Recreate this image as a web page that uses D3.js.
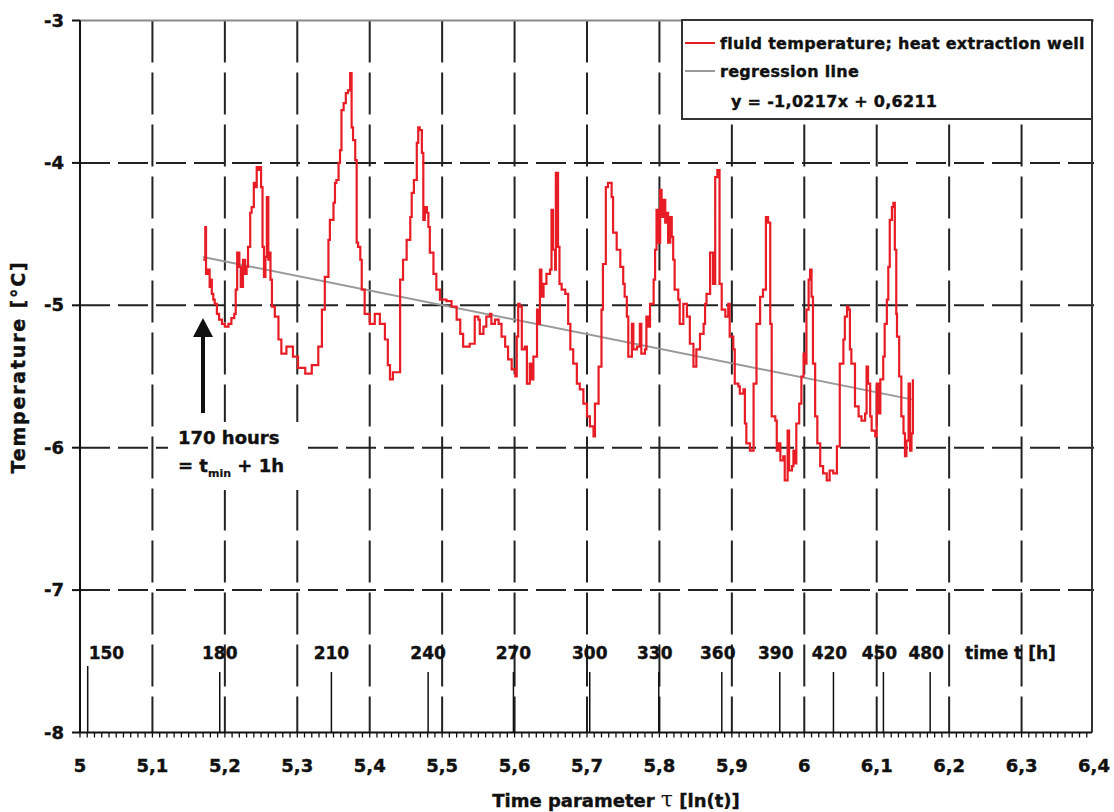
<!DOCTYPE html>
<html>
<head>
<meta charset="utf-8">
<script src="https://cdn.jsdelivr.net/npm/d3@7"></script>
<style>
  body { margin: 0; background: #fff; }
  svg text { font-family: "DejaVu Sans", sans-serif; font-weight: bold; fill: #111; stroke: #111; stroke-width: 0.4px; }
</style>
</head>
<body>
<svg id="chart" width="1114" height="812"></svg>
<script>
// tau = ln(t), temperature in degC
const tauValues = [
  5.170, 5.173, 5.174, 5.177, 5.179, 5.180, 5.182, 5.184, 5.186, 5.189,
  5.192, 5.196, 5.200, 5.205, 5.209, 5.213, 5.215, 5.217, 5.220, 5.222,
  5.225, 5.228, 5.230, 5.232, 5.235, 5.237, 5.240, 5.243, 5.244, 5.246,
  5.249, 5.250, 5.252, 5.254, 5.256, 5.258, 5.260, 5.261, 5.263, 5.265,
  5.269, 5.274, 5.278, 5.285, 5.294, 5.301, 5.311, 5.320, 5.329, 5.334,
  5.338, 5.343, 5.345, 5.350, 5.352, 5.354, 5.357, 5.359, 5.361, 5.364,
  5.367, 5.370, 5.373, 5.375, 5.377, 5.380, 5.382, 5.384, 5.387, 5.389,
  5.393, 5.400, 5.407, 5.414, 5.421, 5.425, 5.428, 5.432, 5.442, 5.446,
  5.451, 5.456, 5.458, 5.461, 5.465, 5.467, 5.469, 5.472, 5.474, 5.476,
  5.479, 5.481, 5.483, 5.488, 5.492, 5.497, 5.506, 5.513, 5.520, 5.525,
  5.529, 5.538, 5.545, 5.550, 5.552, 5.557, 5.561, 5.566, 5.568, 5.573,
  5.578, 5.582, 5.587, 5.591, 5.596, 5.601, 5.603, 5.605, 5.607, 5.610,
  5.614, 5.617, 5.621, 5.624, 5.626, 5.631, 5.633, 5.635, 5.637, 5.640,
  5.644, 5.649, 5.651, 5.653, 5.656, 5.657, 5.660, 5.662, 5.665, 5.670,
  5.674, 5.677, 5.681, 5.686, 5.690, 5.695, 5.700, 5.704, 5.709, 5.711,
  5.716, 5.720, 5.722, 5.726, 5.729, 5.734, 5.736, 5.741, 5.746, 5.750,
  5.752, 5.755, 5.757, 5.762, 5.764, 5.769, 5.773, 5.775, 5.780, 5.782,
  5.785, 5.787, 5.792, 5.794, 5.796, 5.798, 5.801, 5.803, 5.805, 5.808,
  5.810, 5.812, 5.815, 5.817, 5.819, 5.821, 5.826, 5.828, 5.833, 5.838,
  5.842, 5.847, 5.851, 5.856, 5.861, 5.863, 5.865, 5.870, 5.874, 5.877,
  5.880, 5.883, 5.886, 5.891, 5.895, 5.897, 5.902, 5.904, 5.909, 5.911,
  5.916, 5.918, 5.920, 5.925, 5.930, 5.934, 5.939, 5.943, 5.947, 5.950,
  5.953, 5.955, 5.960, 5.962, 5.964, 5.967, 5.971, 5.973, 5.977, 5.979,
  5.983, 5.985, 5.987, 5.989, 5.993, 5.996, 5.999, 6.001, 6.003, 6.006,
  6.008, 6.010, 6.012, 6.015, 6.018, 6.022, 6.026, 6.031, 6.035, 6.040,
  6.045, 6.049, 6.054, 6.056, 6.059, 6.061, 6.063, 6.065, 6.070, 6.075,
  6.079, 6.084, 6.086, 6.088, 6.091, 6.093, 6.098, 6.100, 6.102, 6.105,
  6.109, 6.111, 6.114, 6.116, 6.118, 6.121, 6.123, 6.125, 6.127, 6.128,
  6.131, 6.134, 6.137, 6.139, 6.141, 6.144, 6.146, 6.148, 6.150
];
const tempValues = [
  -4.68, -4.45, -4.78, -4.75, -4.87, -4.82, -4.92, -4.96, -4.99, -5.06,
  -5.10, -5.13, -5.15, -5.13, -5.09, -5.06, -4.89, -4.63, -4.73, -4.87,
  -4.68, -4.78, -4.73, -4.59, -4.35, -4.31, -4.14, -4.17, -4.03, -4.05,
  -4.03, -4.17, -4.59, -4.80, -4.66, -4.24, -4.68, -4.63, -4.82, -5.01,
  -5.08, -5.24, -5.34, -5.29, -5.36, -5.44, -5.48, -5.42, -5.29, -5.03,
  -4.80, -4.54, -4.40, -4.28, -4.14, -4.12, -4.00, -3.91, -3.63, -3.58,
  -3.51, -3.49, -3.37, -3.75, -3.84, -3.98, -4.56, -4.59, -4.68, -4.89,
  -5.06, -5.13, -5.06, -5.13, -5.24, -5.42, -5.52, -5.47, -4.82, -4.68,
  -4.54, -4.38, -4.21, -4.12, -3.86, -3.75, -3.77, -3.93, -4.40, -4.31,
  -4.35, -4.45, -4.63, -4.78, -4.89, -4.96, -4.97, -5.01, -5.10, -5.20,
  -5.29, -5.27, -5.08, -5.10, -5.20, -5.15, -5.08, -5.06, -5.13, -5.10,
  -5.13, -5.22, -5.29, -5.38, -5.45, -5.50, -5.22, -4.99, -5.01, -5.31,
  -5.29, -5.55, -5.41, -5.52, -5.36, -5.03, -5.13, -4.75, -4.94, -4.85,
  -4.78, -4.75, -4.33, -4.61, -4.75, -4.07, -4.59, -4.85, -4.89, -4.92,
  -5.13, -5.31, -5.41, -5.55, -5.59, -5.69, -5.78, -5.85, -5.92, -5.69,
  -5.43, -5.03, -4.71, -4.17, -4.14, -4.24, -4.49, -4.61, -4.73, -4.85,
  -4.94, -5.08, -5.36, -5.13, -5.31, -5.29, -5.13, -5.34, -5.31, -5.08,
  -5.15, -4.99, -4.82, -4.61, -4.33, -4.56, -4.19, -4.38, -4.26, -4.42,
  -4.35, -4.56, -4.38, -4.52, -4.68, -4.89, -4.96, -5.13, -4.99, -5.08,
  -5.27, -5.43, -5.31, -5.20, -5.13, -4.99, -4.92, -4.63, -4.85, -4.10,
  -4.05, -4.85, -5.03, -5.08, -4.99, -5.22, -5.31, -5.55, -5.57, -5.62,
  -5.59, -5.83, -5.97, -6.02, -5.55, -5.13, -4.94, -4.89, -4.38, -4.42,
  -5.13, -5.78, -5.81, -6.02, -5.97, -6.09, -6.06, -6.23, -5.88, -6.16,
  -6.13, -6.02, -6.11, -5.83, -5.69, -5.50, -5.34, -5.41, -5.03, -4.82,
  -4.75, -4.94, -5.41, -5.78, -5.97, -6.13, -6.18, -6.23, -6.16, -6.18,
  -5.99, -5.41, -5.24, -5.08, -5.01, -5.03, -5.31, -5.41, -5.71, -5.78,
  -5.81, -5.76, -5.43, -5.55, -5.78, -5.88, -5.92, -5.55, -5.76, -5.52,
  -5.36, -5.13, -4.96, -4.73, -4.40, -4.31, -4.28, -4.61, -5.06, -5.22,
  -5.50, -5.78, -5.90, -6.06, -5.95, -5.55, -6.02, -5.90, -5.52
];

// axis ticks
const xTickValues = [5, 5.1, 5.2, 5.3, 5.4, 5.5, 5.6, 5.7, 5.8, 5.9, 6, 6.1, 6.2, 6.3, 6.4];
const xTickLabels = ["5", "5,1", "5,2", "5,3", "5,4", "5,5", "5,6", "5,7", "5,8", "5,9", "6", "6,1", "6,2", "6,3", "6,4"];
const yTickValues = [-3, -4, -5, -6, -7, -8];
const yTickLabels = ["-3", "-4", "-5", "-6", "-7", "-8"];

// secondary time axis (hours), drawn at ln(t)
const timeHours = [150, 180, 210, 240, 270, 300, 330, 360, 390, 420, 450, 480];

// regression line y = -1,0217x + 0,6211
const regSlope = -1.0217;
const regIntercept = 0.6211;
const regTau = [5.17, 6.15];

const svg = d3.select('#chart');

const x = d3.scaleLinear().domain([5, 6.4]).range([80, 1094]);
const y = d3.scaleLinear().domain([-8, -3]).range([732.5, 20.5]);

const gridColor = '#222';

// vertical grid lines
svg.append('g')
  .selectAll('line')
  .data(xTickValues.slice(1, -1))
  .join('line')
  .attr('x1', d => x(d)).attr('x2', d => x(d))
  .attr('y1', y(-3)).attr('y2', y(-8))
  .attr('stroke', gridColor)
  .attr('stroke-width', 2)
  .attr('stroke-dasharray', '42,10');

// horizontal grid lines
svg.append('g')
  .selectAll('line')
  .data(yTickValues.slice(1, -1))
  .join('line')
  .attr('x1', x(5)).attr('x2', x(6.4))
  .attr('y1', d => y(d)).attr('y2', d => y(d))
  .attr('stroke', gridColor)
  .attr('stroke-width', 2)
  .attr('stroke-dasharray', '30,8');

// top and right border
svg.append('line')
  .attr('x1', x(5)).attr('x2', x(6.4))
  .attr('y1', y(-3)).attr('y2', y(-3))
  .attr('stroke', '#8a8a8a').attr('stroke-width', 2);
svg.append('line')
  .attr('x1', x(6.4) - 2).attr('x2', x(6.4) - 2)
  .attr('y1', y(-3)).attr('y2', y(-8))
  .attr('stroke', '#333').attr('stroke-width', 2);

// time marks
const timeG = svg.append('g');
timeG.selectAll('line')
  .data(timeHours)
  .join('line')
  .attr('x1', d => x(Math.log(d))).attr('x2', d => x(Math.log(d)))
  .attr('y1', (d, i) => i === 0 ? 666 : 672)
  .attr('y2', y(-8))
  .attr('stroke', '#111')
  .attr('stroke-width', 1.5);
timeG.selectAll('text')
  .data(timeHours)
  .join('text')
  .attr('x', (d, i) => i === 0 ? x(Math.log(d)) + 1 : x(Math.log(d)) - (d >= 330 ? 4 : 0))
  .attr('y', 659)
  .attr('text-anchor', (d, i) => i === 0 ? 'start' : 'middle')
  .style('font-size', '17px')
  .text(d => d);
timeG.append('text')
  .attr('x', 965).attr('y', 659)
  .style('font-size', '17px')
  .text('time t [h]');

// regression line
svg.append('line')
  .attr('x1', x(regTau[0])).attr('y1', y(regSlope * regTau[0] + regIntercept))
  .attr('x2', x(regTau[1])).attr('y2', y(regSlope * regTau[1] + regIntercept))
  .attr('stroke', '#9a9a9a')
  .attr('stroke-width', 2);

// fluid temperature
const line = d3.line()
  .x(i => x(tauValues[i]))
  .y(i => y(tempValues[i]))
  .curve(d3.curveStepAfter);
svg.append('path')
  .datum(d3.range(tauValues.length))
  .attr('d', line)
  .attr('fill', 'none')
  .attr('stroke', '#e81c24')
  .attr('stroke-width', 2.2);

// y axis
const yAxisG = svg.append('g');
yAxisG.append('line')
  .attr('x1', x(5)).attr('x2', x(5))
  .attr('y1', y(-3)).attr('y2', y(-8))
  .attr('stroke', '#111').attr('stroke-width', 2);
yAxisG.selectAll('line.tick')
  .data(yTickValues)
  .join('line')
  .attr('class', 'tick')
  .attr('x1', x(5) - 8).attr('x2', x(5))
  .attr('y1', d => y(d)).attr('y2', d => y(d))
  .attr('stroke', '#111').attr('stroke-width', 2);
yAxisG.selectAll('text')
  .data(yTickValues)
  .join('text')
  .attr('x', 64)
  .attr('y', d => y(d) + 6)
  .attr('text-anchor', 'end')
  .style('font-size', '18px')
  .text((d, i) => yTickLabels[i]);

// x axis
const xAxisG = svg.append('g');
xAxisG.append('line')
  .attr('x1', x(5)).attr('x2', x(6.4) - 2)
  .attr('y1', y(-8)).attr('y2', y(-8))
  .attr('stroke', '#111').attr('stroke-width', 2);
xAxisG.selectAll('line.minor')
  .data(d3.range(0, 140).map(i => 5 + i / 100))
  .join('line')
  .attr('class', 'minor')
  .attr('x1', d => x(d)).attr('x2', d => x(d))
  .attr('y1', y(-8)).attr('y2', y(-8) + 5)
  .attr('stroke', '#111').attr('stroke-width', 1.3);
xAxisG.selectAll('text')
  .data(xTickValues)
  .join('text')
  .attr('x', d => x(d))
  .attr('y', 772)
  .attr('text-anchor', 'middle')
  .style('font-size', '18px')
  .text((d, i) => xTickLabels[i]);

// axis titles
const xTitle = svg.append('text')
  .attr('x', 616).attr('y', 807)
  .attr('text-anchor', 'middle')
  .style('font-size', '18px');
xTitle.append('tspan').text('Time parameter ');
xTitle.append('tspan').style('font-family', '"DejaVu Serif", serif').style('font-weight', 'normal').style('stroke-width', '0').style('font-size', '22px').text('τ');
xTitle.append('tspan').text(' [ln(t)]');

svg.append('text')
  .attr('transform', 'translate(25,367) rotate(-90)')
  .attr('text-anchor', 'middle')
  .style('font-size', '19px')
  .style('letter-spacing', '1.8px')
  .text('Temperature [°C]');

// annotation: arrow + label
svg.append('rect')
  .attr('x', 168).attr('y', 422).attr('width', 140).attr('height', 68)
  .attr('fill', '#fff');
svg.append('line')
  .attr('x1', 203).attr('x2', 203)
  .attr('y1', 413).attr('y2', 332)
  .attr('stroke', '#111').attr('stroke-width', 4);
svg.append('path')
  .attr('d', 'M203,318 L193,337 L213,337 Z')
  .attr('fill', '#111');
svg.append('text')
  .attr('x', 178).attr('y', 444)
  .style('font-size', '18px')
  .text('170 hours');
const ann2 = svg.append('text')
  .attr('x', 178).attr('y', 472)
  .style('font-size', '18px');
ann2.append('tspan').text('= t');
ann2.append('tspan').attr('dy', 5).style('font-size', '11px').style('stroke-width', '0.2px').text('min');
ann2.append('tspan').attr('dy', -5).text(' + 1h');

// legend
const legend = svg.append('g').attr('id', 'legend');
legend.append('rect')
  .attr('x', 682).attr('y', 20).attr('width', 410).attr('height', 99)
  .attr('fill', '#fff')
  .attr('stroke', '#333').attr('stroke-width', 2);
legend.append('line')
  .attr('x1', 685).attr('x2', 715).attr('y1', 43).attr('y2', 43)
  .attr('stroke', '#e81c24').attr('stroke-width', 2);
legend.append('line')
  .attr('x1', 685).attr('x2', 715).attr('y1', 71).attr('y2', 71)
  .attr('stroke', '#9a9a9a').attr('stroke-width', 2);
legend.append('text').attr('x', 720).attr('y', 49).style('font-size', '16px').style('letter-spacing', '0.3px')
  .text('fluid temperature; heat extraction well');
legend.append('text').attr('x', 720).attr('y', 77).style('font-size', '16px').style('letter-spacing', '0.3px')
  .text('regression line');
legend.append('text').attr('x', 731).attr('y', 107).style('font-size', '16px').style('letter-spacing', '0.3px')
  .text('y = -1,0217x + 0,6211');
</script>
</body>
</html>
